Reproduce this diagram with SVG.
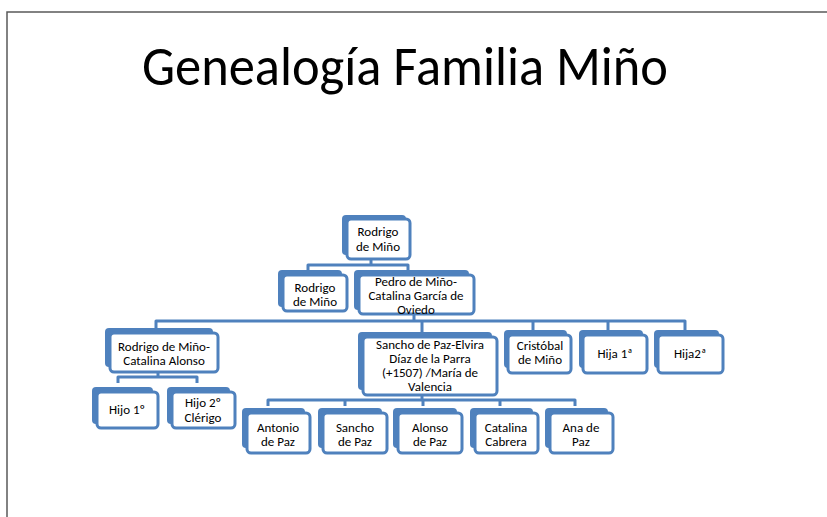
<svg xmlns="http://www.w3.org/2000/svg" width="827" height="517" viewBox="0 0 827 517">
<style>
.back{fill:#4F81BD;}
.front{fill:#FFFFFF;stroke:#4F81BD;stroke-width:3;}
.lbl{font-family:Carlito,"Liberation Sans",Arial,sans-serif;font-size:13px;fill:#000;text-anchor:middle;}
.conn{fill:none;stroke:#4F81BD;stroke-width:3;stroke-linejoin:round;}
.frame{fill:none;stroke:#595959;stroke-width:1.5;}
.title{font-family:Carlito,"Liberation Sans",Arial,sans-serif;font-size:56px;fill:#000;}
</style>
<rect width="827" height="517" fill="#FFFFFF"/>
<path class="frame" d="M7,517 V12 H827"/>
<text class="title" x="142" y="85" textLength="526" lengthAdjust="spacingAndGlyphs">Genealogía Familia Miño</text>

<g id="connectors">
<path class="conn" d="M371,259 V265"/>
<path class="conn" d="M308,271 V265 H408 V271"/>
<path class="conn" d="M414,314 V321"/>
<path class="conn" d="M156,329 V321 H685 V331"/>
<path class="conn" d="M422,321 V333"/>
<path class="conn" d="M533,321 V331"/>
<path class="conn" d="M608,321 V331"/>
<path class="conn" d="M158,372 V377"/>
<path class="conn" d="M118,383 V377 H197 V383"/>
<path class="conn" d="M422,395 V400"/>
<path class="conn" d="M268,406 V400 H575 V406"/>
<path class="conn" d="M345,400 V406"/>
<path class="conn" d="M423,400 V406"/>
<path class="conn" d="M500,400 V406"/>
</g>

<g id="n-root">
<rect class="back" x="342" y="215" width="64" height="40" rx="4"/>
<rect class="front" x="347" y="219" width="63" height="40" rx="4"/>
<text class="lbl" x="378" y="236">Rodrigo</text>
<text class="lbl" x="378" y="251">de Miño</text>
</g>

<g id="n-rodrigo2">
<rect class="back" x="278" y="270" width="64" height="37" rx="4"/>
<rect class="front" x="283" y="275" width="64" height="36" rx="4"/>
<text class="lbl" x="315" y="292">Rodrigo</text>
<text class="lbl" x="315" y="306">de Miño</text>
</g>

<g id="n-pedro">
<rect class="back" x="354" y="270" width="115" height="40" rx="4"/>
<rect class="front" x="359" y="275" width="115" height="39" rx="4"/>
<text class="lbl" x="416" y="286">Pedro de Miño-</text>
<text class="lbl" x="416" y="300">Catalina García de</text>
<text class="lbl" x="416" y="314">Oviedo</text>
</g>

<g id="n-rodrigo-catalina">
<rect class="back" x="105" y="328" width="108" height="39" rx="4"/>
<rect class="front" x="110" y="333" width="108" height="39" rx="4"/>
<text class="lbl" x="164" y="351">Rodrigo de Miño-</text>
<text class="lbl" x="164" y="365">Catalina Alonso</text>
</g>

<g id="n-hijo1">
<rect class="back" x="92" y="387" width="61" height="37" rx="4"/>
<rect class="front" x="97" y="392" width="61" height="36" rx="4"/>
<text class="lbl" x="127" y="414">Hijo 1º</text>
</g>

<g id="n-hijo2">
<rect class="back" x="167" y="387" width="63" height="37" rx="4"/>
<rect class="front" x="172" y="392" width="63" height="36" rx="4"/>
<text class="lbl" x="203" y="407">Hijo 2º</text>
<text class="lbl" x="203" y="422">Clérigo</text>
</g>

<g id="n-sancho">
<rect class="back" x="358" y="332" width="134" height="58" rx="4"/>
<rect class="front" x="363" y="337" width="134" height="58" rx="4"/>
<text class="lbl" x="430" y="349">Sancho de Paz-Elvira</text>
<text class="lbl" x="430" y="363">Díaz de la Parra</text>
<text class="lbl" x="430" y="377">(+1507) /María de</text>
<text class="lbl" x="430" y="391">Valencia</text>
</g>

<g id="n-cristobal">
<rect class="back" x="504" y="330" width="63" height="38" rx="4"/>
<rect class="front" x="508" y="335" width="63" height="38" rx="4"/>
<text class="lbl" x="540" y="350">Cristóbal</text>
<text class="lbl" x="540" y="364">de Miño</text>
</g>

<g id="n-hija1">
<rect class="back" x="579" y="330" width="64" height="38" rx="4"/>
<rect class="front" x="583" y="335" width="64" height="38" rx="4"/>
<text class="lbl" x="615" y="358">Hija 1ª</text>
</g>

<g id="n-hija2">
<rect class="back" x="654" y="330" width="65" height="38" rx="4"/>
<rect class="front" x="658" y="335" width="65" height="38" rx="4"/>
<text class="lbl" x="690" y="358">Hija2ª</text>
</g>

<g id="n-antonio">
<rect class="back" x="242" y="408" width="63" height="40" rx="4"/>
<rect class="front" x="247" y="413" width="63" height="40" rx="4"/>
<text class="lbl" x="278" y="432">Antonio</text>
<text class="lbl" x="278" y="446">de Paz</text>
</g>

<g id="n-sancho2">
<rect class="back" x="318" y="408" width="64" height="40" rx="4"/>
<rect class="front" x="323" y="413" width="64" height="40" rx="4"/>
<text class="lbl" x="355" y="432">Sancho</text>
<text class="lbl" x="355" y="446">de Paz</text>
</g>

<g id="n-alonso">
<rect class="back" x="393" y="408" width="64" height="40" rx="4"/>
<rect class="front" x="398" y="413" width="64" height="40" rx="4"/>
<text class="lbl" x="430" y="432">Alonso</text>
<text class="lbl" x="430" y="446">de Paz</text>
</g>

<g id="n-catalina">
<rect class="back" x="470" y="408" width="63" height="40" rx="4"/>
<rect class="front" x="475" y="413" width="63" height="40" rx="4"/>
<text class="lbl" x="506" y="432">Catalina</text>
<text class="lbl" x="506" y="446">Cabrera</text>
</g>

<g id="n-ana">
<rect class="back" x="545" y="408" width="63" height="40" rx="4"/>
<rect class="front" x="550" y="413" width="63" height="40" rx="4"/>
<text class="lbl" x="581" y="432">Ana de</text>
<text class="lbl" x="581" y="446">Paz</text>
</g>
</svg>
